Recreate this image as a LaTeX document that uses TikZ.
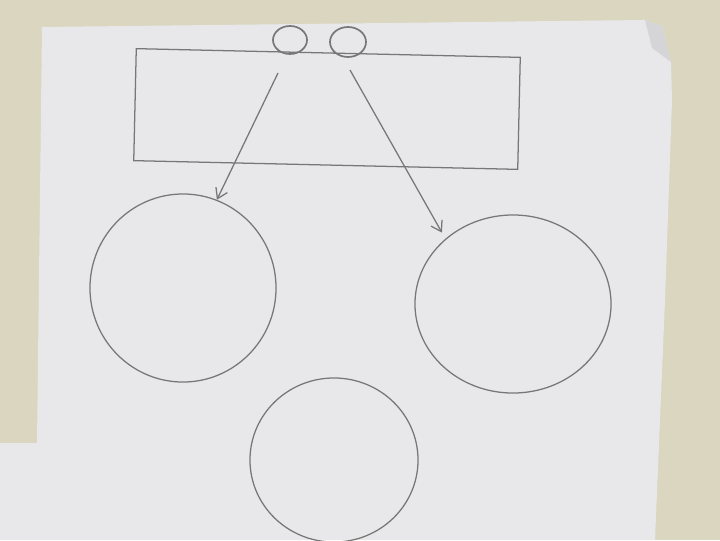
\documentclass[tikz,border=0pt]{standalone}
\usetikzlibrary{shapes.geometric,arrows.meta}
\definecolor{pencil}{HTML}{777777}
\definecolor{cloth}{HTML}{DAD6C0}
\definecolor{paper}{HTML}{E8E8EA}
\begin{document}
\begin{tikzpicture}[x=0.025cm, y=-0.025cm,
  blob/.style={shape=ellipse, draw=pencil, line width=0.9pt, inner sep=0pt},
  pen/.style={draw=pencil, line width=0.9pt}]
\fill[cloth] (0,0) rectangle (720,540);
\useasboundingbox (0,0) rectangle (720,540);
\fill[paper] (42,27) -- (645,20) -- (662,26) -- (671,62) -- (672,100) -- (665,300) -- (655,540) -- (0,540) -- (0,443) -- (37,443) -- cycle;
\fill[paper!92!black] (645,20) -- (662,26) -- (671,62) -- (652,48) -- cycle;
\node[pen, shape=rectangle, minimum width=9.6cm, minimum height=2.8cm, rotate=-1.3] (B) at (327,109) {};
\node[blob, line width=1.2pt, minimum width=0.85cm, minimum height=0.7cm] (O1) at (290,40) {};
\node[blob, line width=1.2pt, minimum width=0.9cm, minimum height=0.75cm] (O2) at (348,42) {};
\node[blob, minimum width=4.65cm, minimum height=4.7cm] (C1) at (183,288) {};
\node[blob, minimum width=4.9cm, minimum height=4.45cm] (C2) at (513,304) {};
\node[blob, minimum width=4.2cm, minimum height=4.1cm] (C3) at (334,460) {};
\coordinate (A1) at (278,73);
\coordinate (A2) at (350,70);
\draw[pen, -{Straight Barb[length=7pt, width=9pt]}] (A1) -- (C1.69);
\draw[pen, -{Straight Barb[length=7pt, width=9pt]}, shorten >=5pt] (A2) -- (C2.136);
\end{tikzpicture}
\end{document}
